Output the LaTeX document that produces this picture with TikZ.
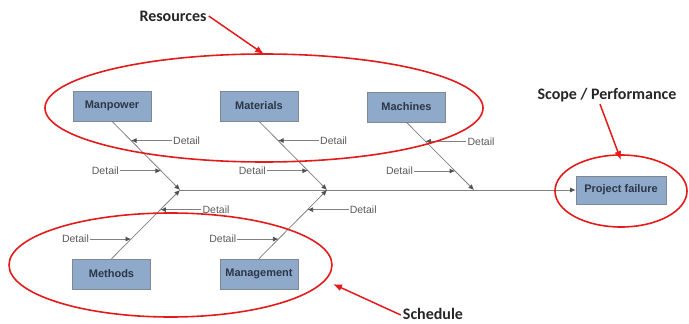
\documentclass[tikz,border=0pt]{standalone}
\usepackage{fontspec}
\setmainfont{Liberation Sans}
\newfontfamily\labelfont{Carlito}
\usetikzlibrary{arrows.meta,shapes.geometric,calc}
\definecolor{boxfill}{HTML}{8FA9CB}
\definecolor{boxline}{HTML}{7F8790}
\definecolor{boxtext}{HTML}{2B3646}
\definecolor{bone}{HTML}{808080}
\definecolor{tipgray}{HTML}{505050}
\definecolor{dettext}{HTML}{595959}
\definecolor{ring}{HTML}{E31B1B}
\begin{document}
\begin{tikzpicture}[x=1pt,y=-1pt,
  cause/.style={draw=boxline, fill=boxfill, line width=0.6pt, minimum width=78pt,
    minimum height=30pt, inner sep=0pt, font=\fontsize{11}{13}\selectfont\bfseries, text=boxtext},
  effect/.style={cause, minimum width=90pt, minimum height=28pt},
  bonearrow/.style={draw=bone, line width=0.8pt, -{Latex[length=5.5pt,width=5pt,color=tipgray]}},
  dtext/.style={inner sep=1pt, font=\fontsize{10.5}{12}\selectfont, text=dettext},
  ring/.style={draw=ring, line width=1.6pt, ellipse, inner sep=0pt},
  callout/.style={inner sep=2pt, font=\labelfont\fontsize{16}{18}\selectfont\bfseries, text=black!85},
  pointer/.style={draw=ring, line width=1.5pt, -{Latex[length=9pt,width=7pt]}}]
\useasboundingbox (0,0) rectangle (689,324);

% head and cause boxes
\node[effect] (pf) at (621,190) {Project failure};
\node[cause] (manpower) at (112,106) {Manpower};
\node[cause] (materials) at (259,106) {Materials};
\node[cause] (machines) at (406.5,107) {Machines};
\node[cause] (methods) at (111.5,274) {Methods};
\node[cause] (management) at (259,274) {Management};

% junctions on the spine
\coordinate (j1) at (180,190);
\coordinate (j2) at (327,190);
\coordinate (j3) at (474,190);

% spine
\draw[bonearrow] (j1) -- (pf.west);

% bones
\draw[bonearrow] (manpower.south) -- (j1);
\draw[bonearrow] (materials.south) -- (j2);
\draw[bonearrow] (machines.south) -- (j3);
\draw[bonearrow] (methods.north) -- (j1);
\draw[bonearrow] (management.north) -- (j2);

% detail points on the upper bones
\foreach \b/\j/\n in {manpower/j1/a, materials/j2/b, machines/j3/c}{
  \coordinate (\n up) at ($(\b.south)!0.28!(\j)$);
  \coordinate (\n lo) at ($(\b.south)!0.72!(\j)$);
  \node[dtext, anchor=west] (\n dup) at ([xshift=41pt]\n up) {Detail};
  \node[dtext, anchor=east] (\n dlo) at ([xshift=-41pt]\n lo) {Detail};
  \draw[bonearrow] (\n dup.west) -- (\n up);
  \draw[bonearrow] (\n dlo.east) -- (\n lo);
}
% detail points on the lower bones
\foreach \b/\j/\n in {methods/j1/d, management/j2/e}{
  \coordinate (\n up) at ($(\j)!0.286!(\b.north)$);
  \coordinate (\n lo) at ($(\j)!0.714!(\b.north)$);
  \node[dtext, anchor=west] (\n dup) at ([xshift=41pt]\n up) {Detail};
  \node[dtext, anchor=east] (\n dlo) at ([xshift=-41pt]\n lo) {Detail};
  \draw[bonearrow] (\n dup.west) -- (\n up);
  \draw[bonearrow] (\n dlo.east) -- (\n lo);
}

% grouping rings
\node[ring, minimum width=438pt, minimum height=108pt] (res) at (264,108) {};
\node[ring, minimum width=323pt, minimum height=104pt] (sch) at (170.5,265) {};
\node[ring, minimum width=132pt, minimum height=72pt] (scp) at (621,191) {};

% callouts
\node[callout] (resl) at (173,16) {Resources};
\node[callout] (scpl) at (607,95) {Scope / Performance};
\node[callout] (schl) at (433,314) {Schedule};
\coordinate (schtip) at (333,284);

\draw[pointer] (resl.east) -- ([yshift=-1pt]res.north);
\draw[pointer] ([xshift=-7pt]scpl.south) -- ([yshift=-6pt]scp.north);
\draw[pointer] ([yshift=-1pt]schl.west) -- (schtip);
\end{tikzpicture}
\end{document}
